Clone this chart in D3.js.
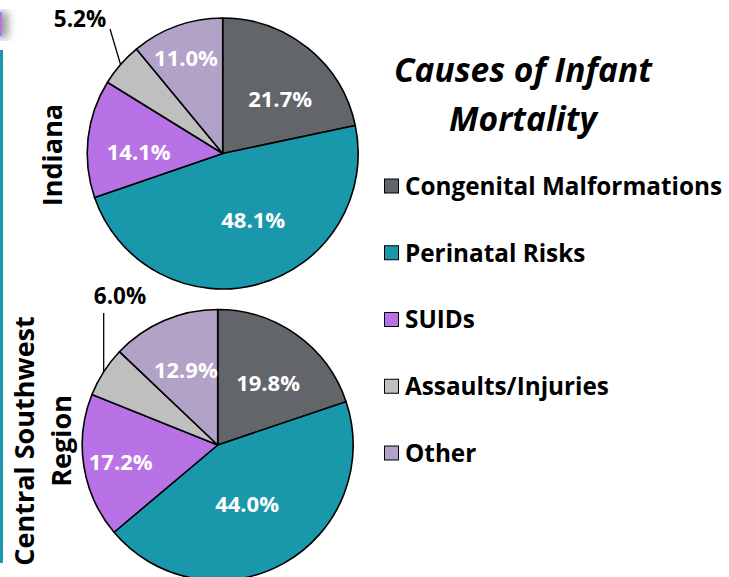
<!DOCTYPE html>
<html>
<head>
<meta charset="utf-8">
<script src="https://cdn.jsdelivr.net/npm/d3@7"></script>
<style>
  body { margin: 0; background: #fff; }
  svg { display: block; font-family: "Open Sans", Lato, sans-serif; font-weight: bold; }
</style>
</head>
<body>
<svg id="chart" width="729" height="577"></svg>
<script>
// Causes of infant mortality, two regions
const categories = ['Congenital Malformations', 'Perinatal Risks', 'SUIDs', 'Assaults/Injuries', 'Other'];
const indianaValues = [21.7, 48.1, 14.1, 5.2, 11.0];
const centralValues = [19.8, 44.0, 17.2, 6.0, 12.9];
const regionNames = [['Indiana'], ['Central Southwest', 'Region']];

const colors = ['#626569', '#1a98ab', '#b972e6', '#bfbfbf', '#b3a2c7'];

// layout for each pie (positions only, not data)
// labelPos: [radius factor, angle shift in degrees] per slice
const pies = [
    { values: indianaValues, cx: 222.7, cy: 153.5, r: 135.5, nameX: 52, nameY: 155,
      labelPos: [[0.585, 7.4], [0.543, -9], [0.62, -5.6], null, [0.756, -1.2]],
      outside: 3, leaderEnd: [110, 29], outLabel: [80, 19] },
    { values: centralValues, cx: 217.7, cy: 445, r: 135.5, nameX: 43, nameY: 441,
      labelPos: [[0.59, 3.4], [0.488, 3], [0.727, -0.9], null, [0.603, 0.3]],
      outside: 3, leaderEnd: null, outLabel: [120, 296] }
];

const svg = d3.select('#chart');

// decorative bits on the left edge
const defs = svg.append('defs');
const blur = defs.append('filter').attr('id', 'shadow').attr('x', '-50%').attr('width', '300%');
blur.append('feGaussianBlur').attr('stdDeviation', 4);
svg.append('rect').attr('x', -6).attr('y', 12).attr('width', 14).attr('height', 26)
    .attr('fill', '#999').attr('filter', 'url(#shadow)');
svg.append('rect').attr('x', 0).attr('y', 12).attr('width', 2).attr('height', 24).attr('fill', '#b972e6');
svg.append('rect').attr('x', 0).attr('y', 50).attr('width', 3).attr('height', 513).attr('fill', '#1a98ab');

const pie = d3.pie().sort(null).value(d => d);
const rad = Math.PI / 180;

pies.forEach((p, pi) => {
    const g = svg.append('g').attr('transform', `translate(${p.cx},${p.cy})`);
    const arc = d3.arc().innerRadius(0).outerRadius(p.r);
    const arcs = pie(p.values);

    g.selectAll('path')
        .data(arcs)
        .enter()
        .append('path')
        .attr('d', arc)
        .attr('fill', (d, i) => colors[i])
        .attr('stroke', '#000')
        .attr('stroke-width', 1.6)
        .attr('stroke-linejoin', 'round');

    // inside labels
    g.selectAll('text.in')
        .data(arcs.filter((d, i) => i !== p.outside))
        .enter()
        .append('text')
        .attr('class', 'in')
        .attr('transform', d => {
            const lp = p.labelPos[d.index];
            const k = lp[0] * p.r;
            const a = (d.startAngle + d.endAngle) / 2 + lp[1] * rad;
            return `translate(${k * Math.sin(a)},${-k * Math.cos(a)})`;
        })
        .attr('text-anchor', 'middle')
        .attr('dy', '0.36em')
        .attr('fill', '#fff')
        .attr('font-size', 22)
        .text(d => d.data.toFixed(1) + '%');

    // outside label with leader line
    const o = arcs[p.outside];
    const a = (o.startAngle + o.endAngle) / 2;
    const x0 = p.cx + p.r * Math.sin(a), y0 = p.cy - p.r * Math.cos(a);
    const end = p.leaderEnd || [x0, p.outLabel[1] + 17];
    svg.append('line')
        .attr('x1', x0).attr('y1', y0).attr('x2', end[0]).attr('y2', end[1])
        .attr('stroke', '#000').attr('stroke-width', 1.3);
    svg.append('text')
        .attr('x', p.outLabel[0]).attr('y', p.outLabel[1])
        .attr('text-anchor', 'middle').attr('dy', '0.36em')
        .attr('font-size', 22.5).attr('fill', '#000')
        .text(o.data.toFixed(1) + '%');

    // region name, rotated
    const name = svg.append('text')
        .attr('transform', `translate(${p.nameX},${p.nameY}) rotate(-90)`)
        .attr('text-anchor', 'middle')
        .attr('font-size', 27)
        .attr('fill', '#000');
    const lines = regionNames[pi];
    lines.forEach((t, i) => {
        name.append('tspan')
            .attr('x', 0)
            .attr('dy', i === 0 ? (lines.length === 1 ? '0.36em' : '-0.32em') : '1.36em')
            .text(t);
    });
});

// title
const title = svg.append('text')
    .attr('text-anchor', 'middle')
    .attr('font-size', 33.5)
    .attr('font-style', 'italic')
    .attr('fill', '#000');
title.append('tspan').attr('x', 523).attr('y', 82).text('Causes of Infant');
title.append('tspan').attr('x', 523).attr('y', 131).text('Mortality');

// legend
const legendY = d3.scalePoint().domain(categories).range([186, 453]);
const legend = svg.selectAll('g.legend')
    .data(categories)
    .enter()
    .append('g')
    .attr('class', 'legend')
    .attr('transform', d => `translate(384,${legendY(d)})`);
legend.append('rect')
    .attr('x', 0.5).attr('y', -7)
    .attr('width', 14).attr('height', 14)
    .attr('fill', (d, i) => colors[i])
    .attr('stroke', '#000').attr('stroke-width', 1);
legend.append('text')
    .attr('x', 21).attr('dy', '0.36em')
    .attr('font-size', 24.3)
    .attr('fill', '#000')
    .text(d => d);
</script>
</body>
</html>
